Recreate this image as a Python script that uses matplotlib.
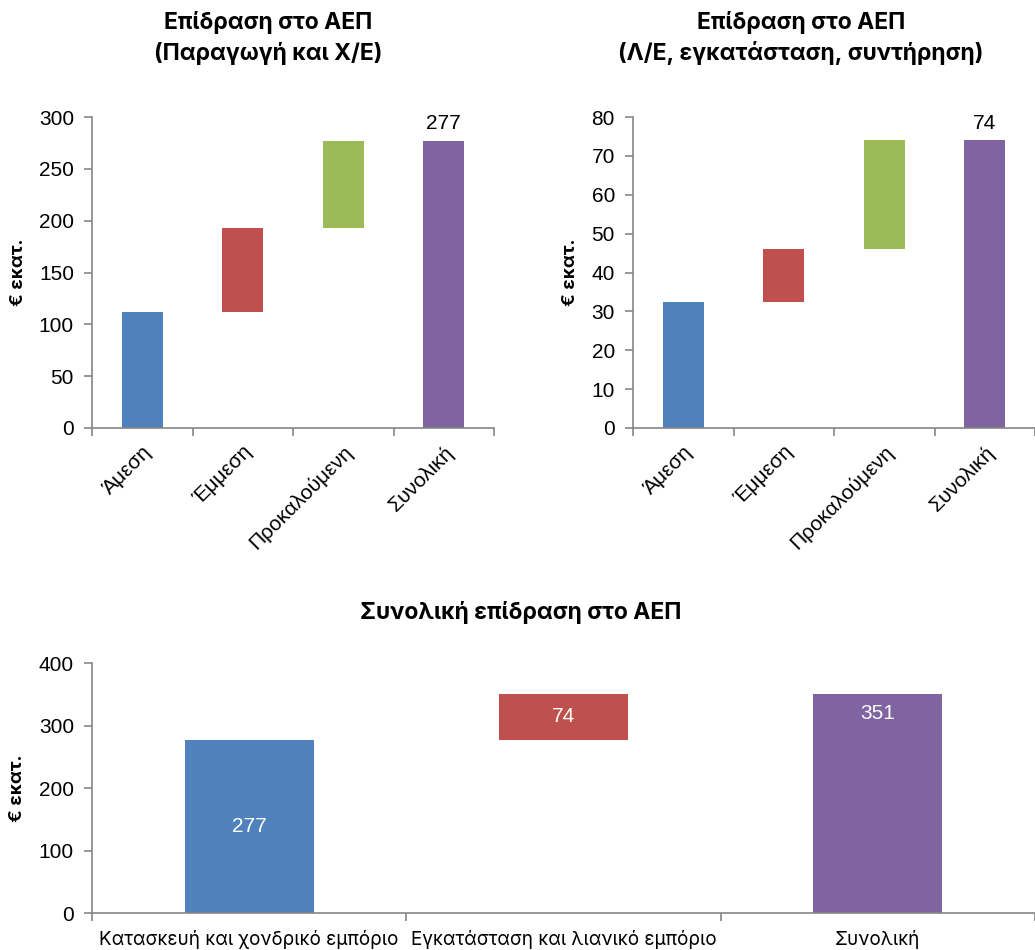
import matplotlib
matplotlib.use("Agg")
import matplotlib.pyplot as plt
import numpy as np

plt.rcParams['font.family'] = ['Liberation Sans', 'DejaVu Sans']

BLUE = '#4F81BD'
RED = '#C0504D'
GREEN = '#9BBB59'
PURPLE = '#8064A2'
AXIS = '#868686'
HEAD = ['Inter', 'DejaVu Sans']

# GDP impact, production and wholesale (EUR m)
stages = ['Άμεση', 'Έμμεση', 'Προκαλούμενη', 'Συνολική']
prod_steps = [112, 81, 84]
prod_total = 277

# GDP impact, retail, installation and maintenance (EUR m)
retail_steps = [32.4, 13.6, 28]
retail_total = 74

# overall impact
sectors = ['Κατασκευή και χονδρικό εμπόριο', 'Εγκατάσταση και λιανικό εμπόριο', 'Συνολική']
sector_steps = [277, 74]
sector_total = 351


def style_axes(ax, n, tick_size=15):
    for s in ['top', 'right']:
        ax.spines[s].set_visible(False)
    for s in ['left', 'bottom']:
        ax.spines[s].set_color(AXIS)
        ax.spines[s].set_linewidth(1.2)
    ax.set_xlim(-0.5, n - 0.5)
    ax.set_xticks(np.arange(n))
    ax.set_xticks(np.arange(n + 1) - 0.5, minor=True)
    ax.tick_params(axis='x', which='major', length=0, pad=10, labelsize=tick_size)
    ax.tick_params(axis='x', which='minor', length=6, width=1.2, color=AXIS, direction='out')
    ax.tick_params(axis='y', length=6, width=1.2, color=AXIS, direction='out',
                   labelsize=tick_size, pad=7)


def waterfall(ax, steps, total, colors, width=0.41):
    bottoms = np.concatenate([[0], np.cumsum(steps)[:-1]])
    n = len(steps)
    ax.bar(np.arange(n), steps, bottom=bottoms, width=width, color=colors[:n])
    ax.bar(n, total, width=width, color=colors[n])
    return bottoms


def ylabel(ax, x):
    ax.set_ylabel('€ εκατ.', fontsize=13.5, fontweight='bold', family=HEAD,
                  va='center')
    ax.yaxis.set_label_coords(x, 0.5)


fig = plt.figure(figsize=(10.35, 9.5), dpi=100)

# top left
ax1 = fig.add_axes([0.0889, 0.5495, 0.3884, 0.3273])
waterfall(ax1, prod_steps, prod_total, [BLUE, RED, GREEN, PURPLE])
ax1.set_ylim(0, 300)
ax1.set_yticks(range(0, 301, 50))
style_axes(ax1, 4)
ax1.set_xticklabels(stages, rotation=45, ha='right', rotation_mode='anchor')
ax1.text(3, prod_total + 8, f'{prod_total}', ha='center', va='bottom', fontsize=15)
ylabel(ax1, -0.182)

# top right
ax2 = fig.add_axes([0.6116, 0.5495, 0.3884, 0.3273])
waterfall(ax2, retail_steps, retail_total, [BLUE, RED, GREEN, PURPLE])
ax2.set_ylim(0, 80)
ax2.set_yticks(range(0, 81, 10))
style_axes(ax2, 4)
ax2.set_xticklabels(stages, rotation=45, ha='right', rotation_mode='anchor')
ax2.text(3, retail_total + 2, f'{retail_total}', ha='center', va='bottom', fontsize=15)
ylabel(ax2, -0.155)

# bottom
ax3 = fig.add_axes([0.0889, 0.0389, 0.9111, 0.2632])
bottoms = waterfall(ax3, sector_steps, sector_total, [BLUE, RED, PURPLE])
ax3.set_ylim(0, 400)
ax3.set_yticks(range(0, 401, 100))
style_axes(ax3, 3)
ax3.set_xticklabels(sectors, fontsize=13.6, family=HEAD)
ax3.tick_params(axis='x', which='major', pad=12)
ylabel(ax3, -0.079)
for i, (b, v) in enumerate(zip(bottoms, sector_steps)):
    ax3.text(i, b + v / 2, f'{v}', ha='center', va='center', color='white', fontsize=15)
ax3.text(2, sector_total - 31, f'{sector_total}', ha='center', va='center', color='white', fontsize=15)

# titles
tfont = dict(fontsize=16.5, fontweight='bold', ha='center', va='center',
             family=HEAD, linespacing=1.4)
fig.text(268 / 1035, 1 - 38 / 950, 'Επίδραση στο ΑΕΠ\n(Παραγωγή και Χ/Ε)', **tfont)
fig.text(801 / 1035, 1 - 38 / 950, 'Επίδραση στο ΑΕΠ\n(Λ/Ε, εγκατάσταση, συντήρηση)', **tfont)
fig.text(521 / 1035, 1 - 613 / 950, 'Συνολική επίδραση στο ΑΕΠ', **tfont)

fig.savefig('out.png', dpi=100)
